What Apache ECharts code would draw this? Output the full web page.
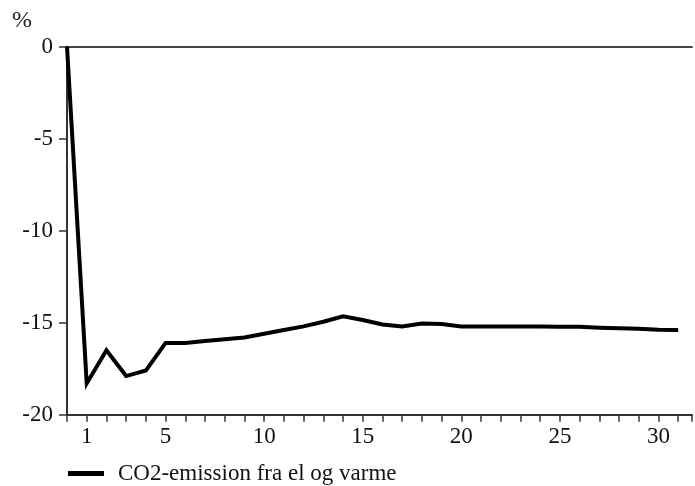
<!DOCTYPE html>
<html>
<head>
<meta charset="utf-8">
<script src="https://cdn.jsdelivr.net/npm/echarts@6/dist/echarts.min.js"></script>
<style>
  html, body { margin: 0; padding: 0; background: #fff; }
  #chart { width: 695px; height: 486px; }
</style>
</head>
<body>
<div id="chart"></div>
<script>
// Periods after the change (0 = base)
const periods = [0,1,2,3,4,5,6,7,8,9,10,11,12,13,14,15,16,17,18,19,20,21,22,23,24,25,26,27,28,29,30,31];
// Deviation in CO2 emission from electricity and heating, percent
const co2Values = [0,-18.3,-16.5,-17.9,-17.6,-16.1,-16.1,-16.0,-15.9,-15.8,-15.6,-15.4,-15.2,-14.95,-14.65,-14.85,-15.1,-15.2,-15.05,-15.07,-15.2,-15.2,-15.2,-15.2,-15.2,-15.22,-15.22,-15.27,-15.3,-15.33,-15.38,-15.4];
const xTickLabels = [1,5,10,15,20,25,30];
const yTicks = [0,-5,-10,-15,-20];
const seriesName = 'CO2-emission fra el og varme';

const serif = '"Liberation Serif", "DejaVu Serif", serif';
const axisColor = '#333';

const chart = echarts.init(document.getElementById('chart'));
chart.setOption({
  animation: false,
  backgroundColor: '#fff',
  textStyle: { fontFamily: serif },
  grid: { left: 67, right: 0, top: 46.7, bottom: 71.3, containLabel: false },
  graphic: [{
    type: 'text', left: 12, top: 9,
    style: { text: '%', font: '24px ' + serif, fill: '#222' }
  }],
  legend: {
    left: 68, top: 462, padding: 0,
    icon: 'rect', itemWidth: 36, itemHeight: 5,
    data: [seriesName],
    textStyle: { fontFamily: serif, fontSize: 23, color: '#111', padding: [0, 0, 0, 9] }
  },
  xAxis: [{
    type: 'value', min: 0, max: 31.7, interval: 1,
    position: 'bottom',
    axisLine: { onZero: false, lineStyle: { color: axisColor, width: 2 } },
    axisTick: { length: 7, lineStyle: { color: axisColor, width: 1.5 } },
    splitLine: { show: false },
    axisLabel: {
      margin: 11, fontFamily: serif, fontSize: 23, color: '#111',
      formatter: v => (xTickLabels.indexOf(v) >= 0 ? String(v) : '')
    }
  }, {
    type: 'value', min: 0, max: 31.7, position: 'top',
    axisLine: { show: true, onZero: false, lineStyle: { color: '#444', width: 2 } },
    axisTick: { show: false }, axisLabel: { show: false }, splitLine: { show: false }
  }],
  yAxis: {
    type: 'value', min: -20, max: 0, interval: 5,
    axisLine: { show: true, onZero: false, lineStyle: { color: axisColor, width: 2 } },
    axisTick: { show: true, length: 8, lineStyle: { color: axisColor, width: 1.5 } },
    splitLine: { show: false },
    axisLabel: {
      margin: 14, fontFamily: serif, fontSize: 23, color: '#111',
      formatter: v => (yTicks.indexOf(v) >= 0 ? String(v) : '')
    }
  },
  series: [{
    name: seriesName,
    type: 'line',
    xAxisIndex: 0,
    data: periods.map((p, i) => [p, co2Values[i]]),
    showSymbol: false,
    symbol: 'none',
    lineStyle: { color: '#000', width: 4, join: 'miter' },
    itemStyle: { color: '#000' }
  }]
});
</script>
</body>
</html>
